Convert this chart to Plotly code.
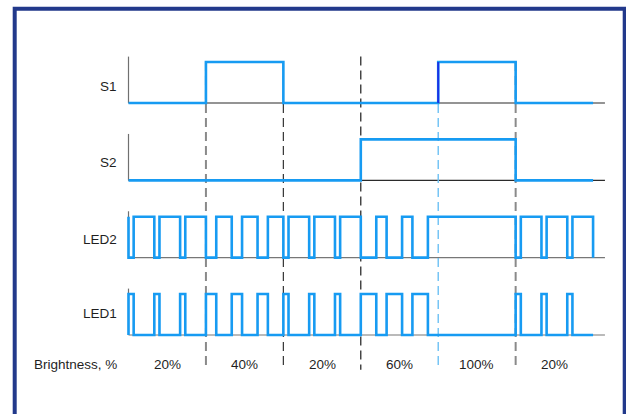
"""
Timing diagram: two push buttons (S1, S2) and the PWM outputs LED1 / LED2,
with the resulting brightness per time slot.
"""
import plotly.graph_objects as go

# --- data (x in PWM periods, three periods per brightness slot) ---
BRIGHTNESS = ["20%", "40%", "20%", "60%", "100%", "20%"]
SLOT_CENTERS = [1.5, 4.5, 7.5, 10.5, 13.5, 16.5]
SLOT_EDGES = [3, 6, 9, 12, 15]

S1_X = [0, 3, 6, 12, 15, 18]
S1_Y = [0, 1, 0, 1, 0, 0]

S2_X = [0, 9, 15, 18]
S2_Y = [0, 1, 0, 0]

LED1_X = [0, 0, 0.2, 1, 1.2, 2, 2.2, 3, 3.4, 4, 4.4, 5, 5.4, 6, 6.2, 7, 7.2,
          8, 8.2, 9, 9.6, 10, 10.6, 11, 11.6, 15, 15.2, 16, 16.2, 17, 17.2, 18]
LED1_Y = [0, 1, 0, 1, 0, 1, 0, 1, 0, 1, 0, 1, 0, 1, 0, 1, 0,
          1, 0, 1, 0, 1, 0, 1, 0, 1, 0, 1, 0, 1, 0, 0]

LED2_X = [0, 0, 0.2, 1, 1.2, 2, 2.2, 3, 3.4, 4, 4.4, 5, 5.4, 6, 6.2, 7, 7.2,
          8, 8.2, 9, 9.6, 10, 10.6, 11, 11.6, 15, 15.2, 16, 16.2, 17, 17.2, 18]
LED2_Y = [1, 0, 1, 0, 1, 0, 1, 0, 1, 0, 1, 0, 1, 0, 1, 0, 1,
          0, 1, 0, 1, 0, 1, 0, 1, 0, 1, 0, 1, 0, 1, 0]

SIGNALS = ["S1", "S2", "LED2", "LED1"]
ROW_BASE = [3, 2, 1, 0]
HIGH = 0.53          # height of a logic "1" in row units
AXIS_TOP = 0.6
AXIS_END = 18.46
LABEL_DY = [0.22, 0.225, 0.24, 0.28]   # vertical placement of row names

COLORS = {
    "signal": "#179bf2",
    "edge_dark": "#1a2fe6",
    "axis_s": "#2b2b2b",
    "axis_led": "#777777",
    "axis_v": "#707070",
    "frame": "#22398b",
    "text": "#1f1f1f",
}
# dashed slot separators: colour, width, top of the line
SEP_STYLE = [
    ("#8a8a8a", 2.0, 3.53),
    ("#333333", 1.2, 3.53),
    ("#1a1a1a", 1.2, 3.60),
    ("#6cc0f5", 1.4, 3.53),
    ("#8a8a8a", 2.0, 3.53),
]
SEP_BOTTOM = -0.45

W, H = 626, 414

fig = go.Figure()

# === axis lines per row ===
for name, base in zip(SIGNALS, ROW_BASE):
    hcol = COLORS["axis_s"] if name.startswith("S") else COLORS["axis_led"]
    fig.add_trace(go.Scatter(
        x=[0, AXIS_END], y=[base, base], mode="lines",
        line=dict(color=hcol, width=1.2), hoverinfo="skip",
    ))
    fig.add_trace(go.Scatter(
        x=[0, 0], y=[base, base + AXIS_TOP], mode="lines",
        line=dict(color=COLORS["axis_v"], width=1.2), hoverinfo="skip",
    ))

# === dashed separators between brightness slots ===
for xe, (col, wd, top) in zip(SLOT_EDGES, SEP_STYLE):
    fig.add_trace(go.Scatter(
        x=[xe, xe], y=[top, SEP_BOTTOM], mode="lines",
        line=dict(color=col, width=wd, dash="9px,5px"), hoverinfo="skip",
    ))

# === waveforms ===
waves = {"S1": (S1_X, S1_Y), "S2": (S2_X, S2_Y),
         "LED2": (LED2_X, LED2_Y), "LED1": (LED1_X, LED1_Y)}
for name, base in zip(SIGNALS, ROW_BASE):
    xs, ys = waves[name]
    fig.add_trace(go.Scatter(
        x=xs, y=[base + v * HIGH for v in ys], mode="lines",
        line=dict(color=COLORS["signal"], width=2.6, shape="hv"),
        name=name,
    ))

# the second S1 rising edge is drawn in a darker blue in the original
fig.add_trace(go.Scatter(
    x=[S1_X[3], S1_X[3]], y=[ROW_BASE[0], ROW_BASE[0] + HIGH], mode="lines",
    line=dict(color=COLORS["edge_dark"], width=2), hoverinfo="skip",
))

# === labels ===
font = dict(family="Liberation Sans, Arial, sans-serif", size=13.5,
            color=COLORS["text"])
for name, base, dy in zip(SIGNALS, ROW_BASE, LABEL_DY):
    fig.add_annotation(x=-0.36, y=base + dy, text=name, showarrow=False,
                       xanchor="right", yanchor="middle", font=font)
fig.add_annotation(x=-0.36, y=-0.375, text="Brightness, %", showarrow=False,
                   xanchor="right", yanchor="middle", font=font)
for xc, lab in zip(SLOT_CENTERS, BRIGHTNESS):
    fig.add_annotation(x=xc, y=-0.375, text=lab, showarrow=False,
                       xanchor="center", yanchor="middle", font=font)

# === frame (open at the bottom) ===
fx0, fx1, fy0 = 14.7 / W, 624.7 / W, 1 - 8.7 / H
fig.add_shape(
    type="path", xref="paper", yref="paper",
    path=f"M {fx0},-0.05 L {fx0},{fy0} L {fx1},{fy0} L {fx1},-0.05",
    line=dict(color=COLORS["frame"], width=4),
)

# === layout: 25.81 px per period, 77.33 px per row ===
px_x, px_y = 25.81, 77.33
x0 = -128.5 / px_x
y1 = 335 / px_y
fig.update_xaxes(visible=False, range=[x0, x0 + W / px_x])
fig.update_yaxes(visible=False, range=[y1 - H / px_y, y1])
fig.update_layout(
    width=W, height=H,
    margin=dict(l=0, r=0, t=0, b=0),
    showlegend=False,
    hovermode=False,
    plot_bgcolor="white",
    paper_bgcolor="white",
)

# drop the default page margin so the figure sits at the window origin
fig.write_html("out.html", config={"displayModeBar": False},
               post_script="document.body.style.margin='0';"
               "document.body.style.overflow='hidden';")
